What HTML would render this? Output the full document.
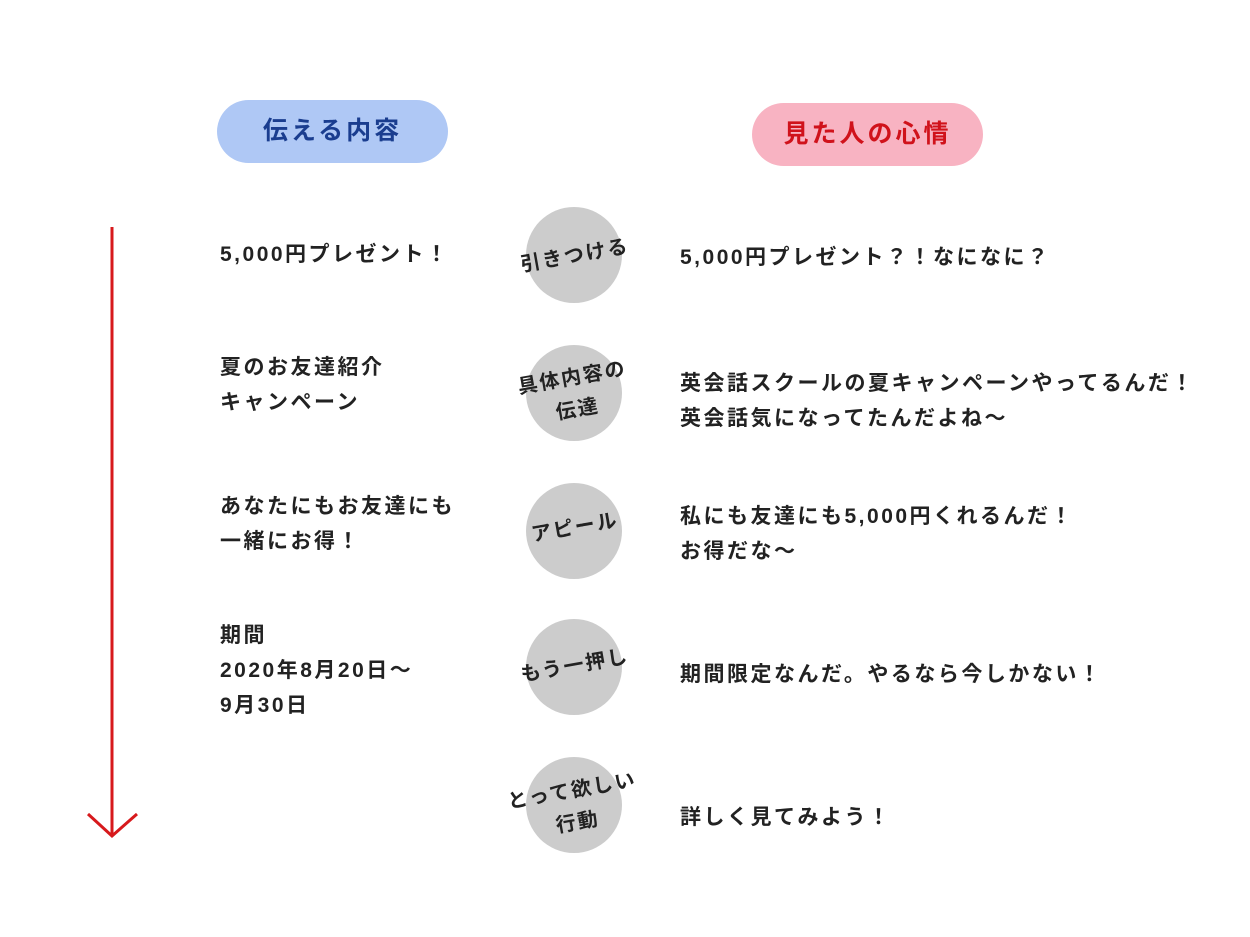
<!DOCTYPE html>
<html><head><meta charset="utf-8"><style>
body{margin:0;width:1250px;height:937px;background:#fff;position:relative;overflow:hidden;font-family:"Liberation Sans","Noto Sans CJK JP",sans-serif;}
.t{position:absolute;font-size:21px;font-weight:bold;letter-spacing:2.5px;line-height:35px;color:#222;white-space:nowrap}
.pill{position:absolute;width:231px;height:63px;border-radius:32px;text-align:center;line-height:63px;font-size:25px;font-weight:bold;letter-spacing:3px}
.c{position:absolute;width:96px;height:96px;border-radius:50%;background:#cccccc}
.cl{position:absolute;width:200px;text-align:center;font-size:20px;font-weight:bold;letter-spacing:2px;line-height:32px;color:#222;transform:rotate(-10deg);white-space:nowrap}
</style></head><body>
<div class="pill" style="left:217px;top:100px;background:#afc8f5;color:#1a3d8f">伝える内容</div>
<div class="pill" style="left:752px;top:103px;background:#f8b3c2;color:#d0121b">見た人の心情</div>
<svg style="position:absolute;left:0;top:0" width="1250" height="937"><g stroke="#d7191c" stroke-width="3" fill="none"><line x1="112" y1="227" x2="112" y2="835"/><polyline points="88,814 112,836 137,814"/></g></svg>

<div class="t" style="left:220px;top:237px">5,000円プレゼント！</div>
<div class="t" style="left:220px;top:350px">夏のお友達紹介<br>キャンペーン</div>
<div class="t" style="left:220px;top:489px">あなたにもお友達にも<br>一緒にお得！</div>
<div class="t" style="left:220px;top:618px">期間<br>2020年8月20日～<br>9月30日</div>

<div class="t" style="left:680px;top:240px">5,000円プレゼント？！なになに？</div>
<div class="t" style="left:680px;top:366px">英会話スクールの夏キャンペーンやってるんだ！<br>英会話気になってたんだよね～</div>
<div class="t" style="left:680px;top:499px">私にも友達にも5,000円くれるんだ！<br>お得だな～</div>
<div class="t" style="left:680px;top:657px">期間限定なんだ。やるなら今しかない！</div>
<div class="t" style="left:680px;top:800px">詳しく見てみよう！</div>

<div class="c" style="left:526px;top:207px"></div>
<div class="c" style="left:526px;top:345px"></div>
<div class="c" style="left:526px;top:483px"></div>
<div class="c" style="left:526px;top:619px"></div>
<div class="c" style="left:526px;top:757px"></div>
<div class="cl" style="left:475px;top:240px">引きつける</div>
<div class="cl" style="left:475px;top:362px">具体内容の<br>伝達</div>
<div class="cl" style="left:475px;top:512px">アピール</div>
<div class="cl" style="left:475px;top:650px">もう一押し</div>
<div class="cl" style="left:475px;top:775px">とって欲しい<br>行動</div>
</body></html>
